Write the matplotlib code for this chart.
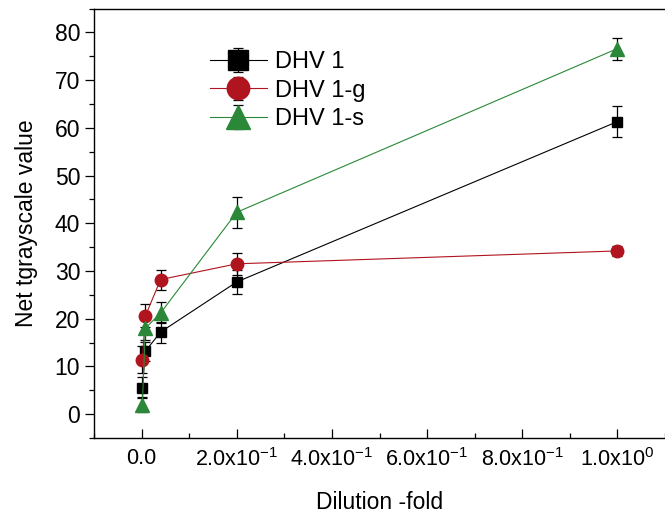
import numpy as np
import matplotlib
matplotlib.use("Agg")
import matplotlib.pyplot as plt
from matplotlib.ticker import MultipleLocator, FixedLocator, FixedFormatter

plt.rcParams['font.family'] = ['Liberation Sans', 'DejaVu Sans']
plt.rcParams['mathtext.fontset'] = 'custom'
plt.rcParams['mathtext.rm'] = 'Liberation Sans'

# five-fold dilution series
dilution = [0.0016, 0.008, 0.04, 0.2, 1.0]

dhv1 = [5.5, 13.2, 17.2, 27.7, 61.3]
dhv1_err = [2.2, 2.0, 2.2, 2.5, 3.3]

dhv1_g = [11.4, 20.6, 28.2, 31.5, 34.2]
dhv1_g_err = [2.8, 2.4, 2.1, 2.3, 1.0]

dhv1_s = [2.0, 18.0, 21.2, 42.3, 76.6]
dhv1_s_err = [1.5, 2.5, 2.2, 3.2, 2.3]

xtick_vals = [0.0, 0.2, 0.4, 0.6, 0.8, 1.0]
xtick_labels = ['0.0', r'2.0x10$^{\mathregular{-1}}$', r'4.0x10$^{\mathregular{-1}}$',
                r'6.0x10$^{\mathregular{-1}}$', r'8.0x10$^{\mathregular{-1}}$',
                r'1.0x10$^{\mathregular{0}}$']

fig = plt.figure(figsize=(6.65, 5.17), dpi=100)
ax = fig.add_axes([94/665, 79/517, 1 - 94/665, (438-8.5)/517])

series = [
    (dhv1, dhv1_err, 'DHV 1', 'black', 's', 7.8),
    (dhv1_g, dhv1_g_err, 'DHV 1-g', '#b0141e', 'o', 9.0),
    (dhv1_s, dhv1_s_err, 'DHV 1-s', '#2a8838', '^', 9.5),
]
for vals, errs, name, col, mk, ms in series:
    ax.errorbar(dilution, vals, yerr=errs, color=col, marker=mk, markersize=ms,
                lw=0.8, ecolor='black', elinewidth=0.9, capsize=3.6,
                capthick=0.9, label=name)

ax.set_xlim(-0.1, 1.1)
ax.set_ylim(-5, 85)

ax.xaxis.set_major_locator(FixedLocator(xtick_vals))
ax.xaxis.set_major_formatter(FixedFormatter(xtick_labels))
ax.xaxis.set_minor_locator(MultipleLocator(0.1))
ax.yaxis.set_major_locator(MultipleLocator(10))
ax.yaxis.set_minor_locator(MultipleLocator(5))

ax.spines['right'].set_visible(False)
ax.tick_params(axis='x', which='major', direction='in', length=6.5, width=0.9,
               labelsize=15.5, pad=7)
ax.tick_params(axis='x', which='minor', direction='in', length=3.5, width=0.9)
ax.tick_params(axis='y', which='major', direction='out', length=6.5, width=0.9,
               labelsize=16.5, pad=3.5)
ax.tick_params(axis='y', which='minor', direction='out', length=3.5, width=0.9)
for s in ['left', 'bottom', 'top']:
    ax.spines[s].set_linewidth(1.0)

ax.set_xlabel('Dilution -fold', fontsize=16.5, labelpad=15)
ax.set_ylabel('Net tgrayscale value', fontsize=16.5, labelpad=12)

fig.legend(loc='upper left', bbox_to_anchor=(210/665, 1 - 51/517),
           frameon=False, fontsize=17, markerscale=1.8, handlelength=2.4,
           handletextpad=0.35, labelspacing=0.28, borderpad=0, borderaxespad=0)

fig.savefig('out.png', dpi=100)
